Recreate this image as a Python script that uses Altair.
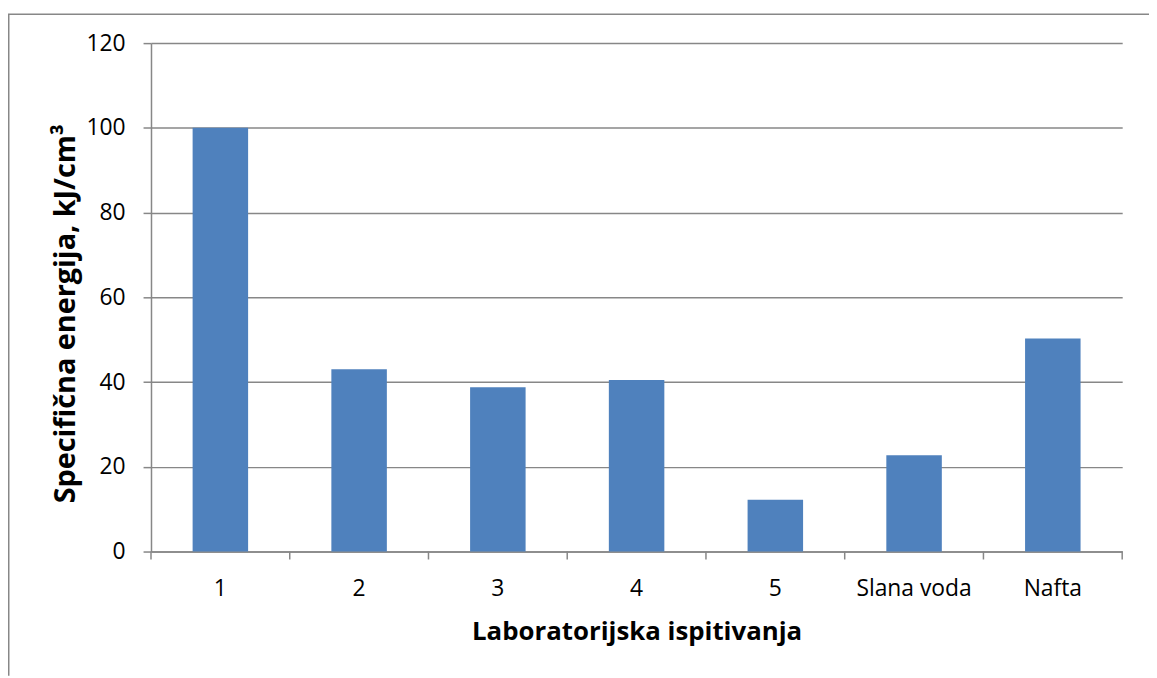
import altair as alt
import pandas as pd

categories = ["1", "2", "3", "4", "5", "Slana voda", "Nafta"]
values = [100, 43, 38.8, 40.5, 12.2, 22.7, 50.3]
y_ticks = [0, 20, 40, 60, 80, 100, 120]

df = pd.DataFrame({"kat": categories, "vrijednost": values})

W, H = 978, 512
PAD = {"left": 144, "top": 33, "right": 27, "bottom": 125}
GRAY = "#878787"
FONT = "Open Sans"
BLUE = "#4F81BD"
LW = 1.5

xscale = alt.Scale(paddingInner=0, paddingOuter=0)
x_axis = alt.Axis(
    title="Laboratorijska ispitivanja",
    labelAngle=0,
    labelFont=FONT,
    labelFontSize=23,
    labelColor="black",
    labelBaseline="alphabetic",
    labelPadding=36,
    tickSize=8,
    tickOpacity=0,
    domainColor=GRAY,
    domainWidth=LW,
    grid=False,
    titleFont=FONT,
    titleFontSize=26,
    titleFontWeight="bold",
    titleColor="black",
    titleX=W / 2,
    titleY=89,
    titleBaseline="alphabetic",
    titleAlign="center",
)
y_axis = alt.Axis(
    values=y_ticks,
    title="Specifična energija, kJ/cm³",
    grid=True,
    gridColor=GRAY,
    gridWidth=LW,
    domainColor=GRAY,
    domainWidth=LW,
    tickColor=GRAY,
    tickWidth=LW,
    tickSize=8,
    labelFont=FONT,
    labelFontSize=23,
    labelColor="black",
    labelPadding=18,
    titleFont=FONT,
    titleFontSize=29,
    titleFontWeight="bold",
    titleColor="black",
    titleAngle=270,
    titleX=-77,
    titleY=272,
    titleAlign="center",
    titleBaseline="alphabetic",
)

bars = alt.Chart(df).mark_bar(color=BLUE, width=alt.RelativeBandSize(0.4)).encode(
    x=alt.X("kat:N", sort=categories, scale=xscale, axis=x_axis),
    y=alt.Y("vrijednost:Q", scale=alt.Scale(domain=[0, 120]), axis=y_axis),
)

tick_marks = alt.Chart(df).mark_rule(color=GRAY, strokeWidth=LW).encode(
    x=alt.X("kat:N", sort=categories, scale=xscale, axis=x_axis, bandPosition=0),
    y=alt.value(H),
    y2=alt.value(H + 8),
)
last_tick = alt.Chart(df.tail(1)).mark_rule(color=GRAY, strokeWidth=LW).encode(
    x=alt.X("kat:N", sort=categories, scale=xscale, axis=x_axis, bandPosition=1),
    y=alt.value(H),
    y2=alt.value(H + 8),
)

frame_df = pd.DataFrame({"f": [0]})
frame_left = alt.Chart(frame_df).mark_rule(color=GRAY, strokeWidth=1.5).encode(
    x=alt.value(-143.25),
    y=alt.value(-29),
    y2=alt.value(H + PAD["bottom"]),
)
frame_top = alt.Chart(frame_df).mark_rule(color=GRAY, strokeWidth=1.5).encode(
    x=alt.value(-144),
    x2=alt.value(W + PAD["right"]),
    y=alt.value(-29),
)

chart = (
    alt.layer(bars, tick_marks, last_tick, frame_left, frame_top)
    .properties(
        width=W,
        height=H,
        autosize=alt.AutoSizeParams(type="none"),
        padding=PAD,
        background="white",
    )
    .configure_view(stroke=None)
)

chart.save("out.html", embed_options={"renderer": "svg", "actions": False})
